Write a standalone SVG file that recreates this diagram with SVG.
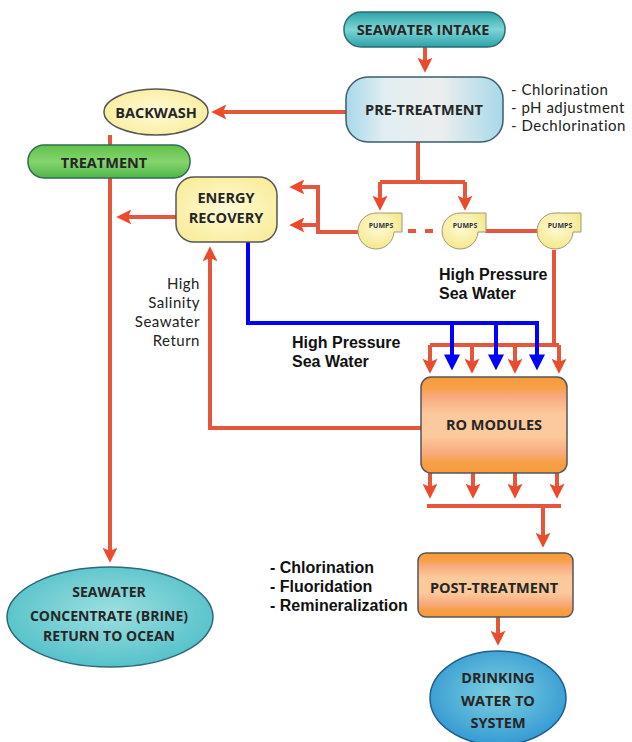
<svg xmlns="http://www.w3.org/2000/svg" width="632" height="742" viewBox="0 0 632 742">
<style>
.lbl{font-family:"Open Sans","DejaVu Sans",sans-serif;font-weight:700;font-size:14.5px;fill:#262626;text-anchor:middle}
.side{font-family:Lato,"Open Sans",sans-serif;font-size:15px;letter-spacing:0.5px;fill:#222}
.note{font-family:Lato,"Open Sans",sans-serif;font-size:15px;letter-spacing:0.5px;fill:#222;text-anchor:end}
.ar{font-family:"Liberation Sans",Arial,sans-serif;font-weight:700;font-size:16px;fill:#111}
.pl{font-family:"Open Sans","DejaVu Sans",sans-serif;font-weight:700;font-size:7px;fill:#333;text-anchor:middle}
.red{fill:none;stroke:#e5573c;stroke-width:4}
.redA{fill:none;stroke:#e5573c;stroke-width:4;marker-end:url(#ra)}
.blue{fill:none;stroke:#0000ff;stroke-width:4}
.blueA{fill:none;stroke:#0000ff;stroke-width:4;marker-end:url(#ba)}
.pump{fill:url(#gPump);stroke:#9a9a80;stroke-width:1}
</style>
<defs>
<marker id="ra" viewBox="0 0 14 14" markerWidth="15" markerHeight="15" markerUnits="userSpaceOnUse" refX="4" refY="7" orient="auto">
<path d="M0,0 L14,7 L0,14 L3,7 Z" fill="#ec4a2b"/>
</marker>
<marker id="ba" viewBox="0 0 14 14" markerWidth="16" markerHeight="16" markerUnits="userSpaceOnUse" refX="4" refY="7" orient="auto">
<path d="M0,0 L14,7 L0,14 Z" fill="#0000ff"/>
</marker>
<linearGradient id="gTeal" x1="0" y1="0" x2="0" y2="1">
<stop offset="0" stop-color="#2aa3a8"/><stop offset="0.5" stop-color="#7fd4d6"/><stop offset="1" stop-color="#2aa3a8"/>
</linearGradient>
<linearGradient id="gPre" x1="0" y1="0" x2="1" y2="0">
<stop offset="0" stop-color="#a8d8ea"/><stop offset="0.25" stop-color="#e2eef2"/><stop offset="0.6" stop-color="#eceeee"/><stop offset="1" stop-color="#a8d8ea"/>
</linearGradient>
<radialGradient id="gYel" cx="0.5" cy="0.5" r="0.6">
<stop offset="0" stop-color="#fffbd8"/><stop offset="1" stop-color="#f9ec9a"/>
</radialGradient>
<radialGradient id="gPump" cx="0.45" cy="0.4" r="0.6">
<stop offset="0" stop-color="#fffbd8"/><stop offset="1" stop-color="#f5e88c"/>
</radialGradient>
<linearGradient id="gGreen" x1="0" y1="0" x2="0" y2="1">
<stop offset="0" stop-color="#5fc24a"/><stop offset="0.5" stop-color="#86d46e"/><stop offset="1" stop-color="#4fb648"/>
</linearGradient>
<linearGradient id="gOr" x1="0" y1="0" x2="0" y2="1">
<stop offset="0" stop-color="#f79a3c"/><stop offset="0.12" stop-color="#f7a048"/><stop offset="0.2" stop-color="#f8a97c"/><stop offset="0.38" stop-color="#fbc99b"/><stop offset="0.62" stop-color="#fbc99b"/><stop offset="0.8" stop-color="#f8a97c"/><stop offset="0.88" stop-color="#f7a048"/><stop offset="1" stop-color="#f79a3c"/>
</linearGradient>
<radialGradient id="gBrine" cx="0.5" cy="0.45" r="0.6">
<stop offset="0" stop-color="#9ddfe0"/><stop offset="1" stop-color="#4fbfc8"/>
</radialGradient>
<radialGradient id="gDrink" cx="0.5" cy="0.45" r="0.6">
<stop offset="0" stop-color="#7fd0df"/><stop offset="1" stop-color="#2f96d2"/>
</radialGradient>
</defs>

<g id="connectors">
<path class="redA" d="M425,47 V62"/>
<path class="redA" d="M346,112 H222"/>
<path class="red" d="M418,142 V182 M380,182 H465"/>
<path class="redA" d="M380,182 V200"/>
<path class="redA" d="M465,182 V200"/>
<path class="redA" d="M358,232 H318 V187 H300"/>
<path class="redA" d="M318,225 H300"/>
<path class="redA" d="M176,217 H127"/>
<path class="redA" d="M110,135 V552"/>
<path class="red" d="M408,231 H416 M425,231 H433"/>
<path class="red" d="M485,231 H538"/>
<path class="red" d="M554,250 V345 M430,345 H559"/>
<path class="redA" d="M430,345 V363"/>
<path class="redA" d="M472,345 V363"/>
<path class="redA" d="M515,345 V363"/>
<path class="redA" d="M559,345 V363"/>
<path class="blue" d="M248,241 V323 H537"/>
<path class="blueA" d="M452,323 V359"/>
<path class="blueA" d="M496,323 V359"/>
<path class="blueA" d="M537,321 V359"/>
<path class="redA" d="M421,428 H210 V257"/>
<path class="redA" d="M430,473 V488"/>
<path class="redA" d="M473,473 V488"/>
<path class="redA" d="M515,473 V488"/>
<path class="redA" d="M557,473 V488"/>
<path class="red" d="M427,506 H561"/>
<path class="redA" d="M543,506 V537"/>
<path class="redA" d="M498,617 V635"/>
</g>

<g id="seawater-intake">
<rect x="344" y="12" width="161" height="35" rx="17" fill="url(#gTeal)" stroke="#2a6e72" stroke-width="1.5"/>
<text class="lbl" x="423" y="35">SEAWATER INTAKE</text>
</g>
<g id="pre-treatment">
<rect x="346" y="77" width="157" height="65" rx="22" fill="url(#gPre)" stroke="#3d5e6a" stroke-width="1.5"/>
<text class="lbl" x="424" y="115">PRE-TREATMENT</text>
</g>
<g id="pre-treatment-notes">
<text class="side" x="511" y="95">- Chlorination</text>
<text class="side" x="511" y="113">- pH adjustment</text>
<text class="side" x="511" y="131">- Dechlorination</text>
</g>
<g id="backwash">
<ellipse cx="156" cy="112" rx="52" ry="23" fill="url(#gYel)" stroke="#555" stroke-width="1.5"/>
<text class="lbl" x="156" y="118">BACKWASH</text>
</g>
<g id="treatment">
<rect x="28" y="145" width="162" height="33" rx="16" fill="url(#gGreen)" stroke="#2e6d50" stroke-width="1.5"/>
<text class="lbl" x="104" y="168">TREATMENT</text>
</g>
<g id="energy-recovery">
<rect x="176" y="177" width="101" height="65" rx="18" fill="url(#gYel)" stroke="#555" stroke-width="1.5"/>
<text class="lbl" x="226" y="203">ENERGY</text>
<text class="lbl" x="226" y="223">RECOVERY</text>
</g>
<g id="pump-1">
<path class="pump" d="M376,213 H402 V232 H394 A18,18 0 1 1 376,213 Z"/>
<text class="pl" x="381" y="228">PUMPS</text>
</g>
<g id="pump-2">
<path class="pump" d="M460,213 H486 V232 H478 A18,18 0 1 1 460,213 Z"/>
<text class="pl" x="465" y="228">PUMPS</text>
</g>
<g id="pump-3">
<path class="pump" d="M555,213 H581 V232 H573 A18,18 0 1 1 555,213 Z"/>
<text class="pl" x="560" y="228">PUMPS</text>
</g>
<g id="label-hp-right">
<text class="ar" x="439" y="280">High Pressure</text>
<text class="ar" x="439" y="299">Sea Water</text>
</g>
<g id="label-hp-left">
<text class="ar" x="292" y="348">High Pressure</text>
<text class="ar" x="292" y="367">Sea Water</text>
</g>
<g id="label-salinity">
<text class="note" x="200" y="289">High</text>
<text class="note" x="200" y="308">Salinity</text>
<text class="note" x="200" y="327">Seawater</text>
<text class="note" x="200" y="346">Return</text>
</g>
<g id="ro-modules">
<rect x="421" y="377" width="146" height="96" rx="10" fill="url(#gOr)" stroke="#555" stroke-width="1.5"/>
<text class="lbl" x="494" y="430">RO MODULES</text>
</g>
<g id="post-treatment">
<rect x="418" y="553" width="155" height="64" rx="8" fill="url(#gOr)" stroke="#555" stroke-width="1.5"/>
<text class="lbl" x="494" y="593">POST-TREATMENT</text>
</g>
<g id="post-treatment-notes">
<text class="ar" x="270" y="573">- Chlorination</text>
<text class="ar" x="270" y="592">- Fluoridation</text>
<text class="ar" x="270" y="611">- Remineralization</text>
</g>
<g id="brine">
<ellipse cx="110" cy="617" rx="103" ry="50" fill="url(#gBrine)" stroke="#2d6a78" stroke-width="1.5"/>
<text class="lbl" x="109" y="597" style="font-size:14px">SEAWATER</text>
<text class="lbl" x="109" y="621" style="font-size:14px">CONCENTRATE (BRINE)</text>
<text class="lbl" x="109" y="641" style="font-size:14px">RETURN TO OCEAN</text>
</g>
<g id="drinking-water">
<ellipse cx="498" cy="698" rx="68" ry="47" fill="url(#gDrink)" stroke="#1e5e8a" stroke-width="1.5"/>
<text class="lbl" x="498" y="683">DRINKING</text>
<text class="lbl" x="498" y="706">WATER TO</text>
<text class="lbl" x="498" y="728">SYSTEM</text>
</g>
</svg>
